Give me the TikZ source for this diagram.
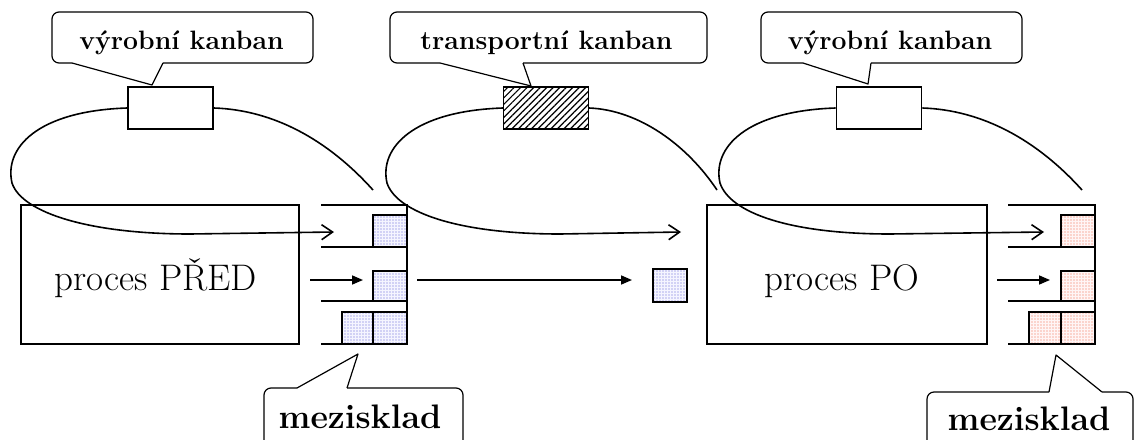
\documentclass[tikz,border=0pt]{standalone}
\usetikzlibrary{arrows.meta,patterns.meta}
\definecolor{dotblue}{RGB}{95,95,215}
\definecolor{dotred}{RGB}{240,105,75}
\tikzset{
  proc/.style={draw, line width=1.8pt, inner sep=0pt, minimum width=278pt, minimum height=139pt},
  ptext/.style={font=\fontsize{37}{44}\selectfont, anchor=base, inner sep=0pt},
  ctext/.style={font=\fontsize{26.6}{32}\selectfont\bfseries, anchor=base, inner sep=0pt},
  mtext/.style={font=\fontsize{34}{40}\selectfont\bfseries, anchor=base, inner sep=0pt},
  card/.style={draw, line width=1.8pt, fill=white, minimum width=85pt, minimum height=42pt, inner sep=0pt},
  hatched/.style={card, pattern={Lines[angle=45,distance=4.6pt,line width=1.2pt]}, preaction={fill=white}},
  stockbase/.style={draw, line width=1.6pt, inner sep=0pt, minimum width=34pt, minimum height=32pt},
  stockL/.style={stockbase, preaction={fill=blue!4}, pattern={Dots[distance=3pt,radius=0.65pt]}, pattern color=dotblue},
  stockR/.style={stockbase, preaction={fill=red!4}, pattern={Dots[distance=3pt,radius=0.65pt]}, pattern color=dotred},
  shelf/.style={line width=1.8pt},
  loopline/.style={line width=1.6pt},
  kanbanarrow/.style={-{Straight Barb[length=11pt,width=15pt]}},
  push/.style={line width=1.6pt, -{Triangle[length=11pt,width=9pt]}},
  calloutline/.style={line width=1.2pt, line join=round},
}
\begin{document}
\begin{tikzpicture}[x=1pt,y=-1pt]
\useasboundingbox (0,0) rectangle (1134,439);
\clip (0,0) rectangle (1134,439);

% processes
\node[proc] (pred) at (160,274.5) {};
\node[ptext] (predtxt) at (156,290) {proces PŘED};
\node[proc, minimum width=280pt] (po) at (847,274.5) {};
\node[ptext] (potxt) at (842,290) {proces PO};

% shelves of the upstream store
\draw[shelf] (321,205) -- (407,205) -- (407,344) -- (321,344);
\draw[shelf] (321,247) -- (407,247);
\draw[shelf] (321,301) -- (407,301);
\node[stockL] (pa) at (390,231) {};
\node[stockL, minimum height=30pt] (pb) at (390,286) {};
\node[stockL, minimum width=31pt] (pc) at (357.5,328) {};
\node[stockL] (pd) at (390,328) {};

% shelves of the downstream store
\draw[shelf] (1008,205) -- (1095,205) -- (1095,344) -- (1008,344);
\draw[shelf] (1008,247) -- (1095,247);
\draw[shelf] (1008,301) -- (1095,301);
\node[stockR] (qa) at (1078,231) {};
\node[stockR, minimum height=30pt] (qb) at (1078,286) {};
\node[stockR, minimum width=32pt] (qc) at (1045,328) {};
\node[stockR] (qd) at (1078,328) {};

% part in transit
\node[stockL, minimum height=33pt] (tb) at (670,285.5) {};

% material flow
\coordinate (m1s) at (310,280);
\coordinate (m1e) at (363,280);
\coordinate (m2s) at (417,280);
\coordinate (m2e) at (632,280);
\coordinate (m3s) at (997,280);
\coordinate (m3e) at (1050,280);
\draw[push] (m1s) -- (m1e);
\draw[push] (m2s) -- (m2e);
\draw[push] (m3s) -- (m3e);

% kanban cards
\node[card] (k1) at (170.5,108) {};
\node[hatched] (k2) at (546,108) {};
\node[card] (k3) at (879,108) {};

% kanban loops
\coordinate (r1) at (373,190);
\coordinate (r2) at (717,190);
\coordinate (r3) at (1082,190);
\coordinate (in1) at (334,232);
\coordinate (in2) at (681,232);
\coordinate (in3) at (1044,232);
\draw[loopline] (k1.east) .. controls +(60,2) and +(-45,-50) .. (r1);
\draw[loopline, kanbanarrow] (k1.west) .. controls +(-90,3) and +(-8,-35) .. (12,183)
  .. controls +(10,30) and +(-100,0) .. (190,234) -- (in1);
\draw[loopline] (k2.east) .. controls +(50,2) and +(-30,-45) .. (r2);
\draw[loopline, kanbanarrow] (k2.west) .. controls +(-90,3) and +(-8,-35) .. (387,183)
  .. controls +(10,30) and +(-100,0) .. (560,234) -- (in2);
\draw[loopline] (k3.east) .. controls +(60,2) and +(-45,-50) .. (r3);
\draw[loopline, kanbanarrow] (k3.west) .. controls +(-90,3) and +(-8,-35) .. (720,183)
  .. controls +(10,30) and +(-100,0) .. (890,234) -- (in3);

% callouts above the cards
\draw[calloutline, rounded corners=7pt] (163,63) -- (313,63) -- (313,12) -- (52,12) -- (52,63) -- (72,63);
\draw[calloutline] (72,63) -- (152,85) -- (163,63);
\node[ctext] (c1) at (181.5,49) {výrobní kanban};

\draw[calloutline, rounded corners=7pt] (523,63) -- (707,63) -- (707,12) -- (390,12) -- (390,63) -- (440,63);
\draw[calloutline] (440,63) -- (531,86) -- (523,63);
\node[ctext] (c2) at (546.5,49) {transportní kanban};

\draw[calloutline, rounded corners=7pt] (871,63) -- (1022,63) -- (1022,12) -- (761,12) -- (761,63) -- (803,63);
\draw[calloutline] (803,63) -- (868,84) -- (871,63);
\node[ctext] (c3) at (890,49) {výrobní kanban};

% callouts below the stores
\draw[calloutline, rounded corners=7pt] (347,388) -- (463,388) -- (463,470);
\draw[calloutline, rounded corners=7pt] (297,388) -- (264,388) -- (264,470);
\draw[calloutline] (297,388) -- (358,354) -- (347,388);
\node[mtext] (s1) at (360,428) {mezisklad};

\draw[calloutline, rounded corners=7pt] (1102,392) -- (1133,392) -- (1133,470);
\draw[calloutline, rounded corners=7pt] (1049,392) -- (927,392) -- (927,470);
\draw[calloutline] (1049,392) -- (1056,355) -- (1102,392);
\node[mtext] (s2) at (1029,430) {mezisklad};
\end{tikzpicture}
\end{document}
